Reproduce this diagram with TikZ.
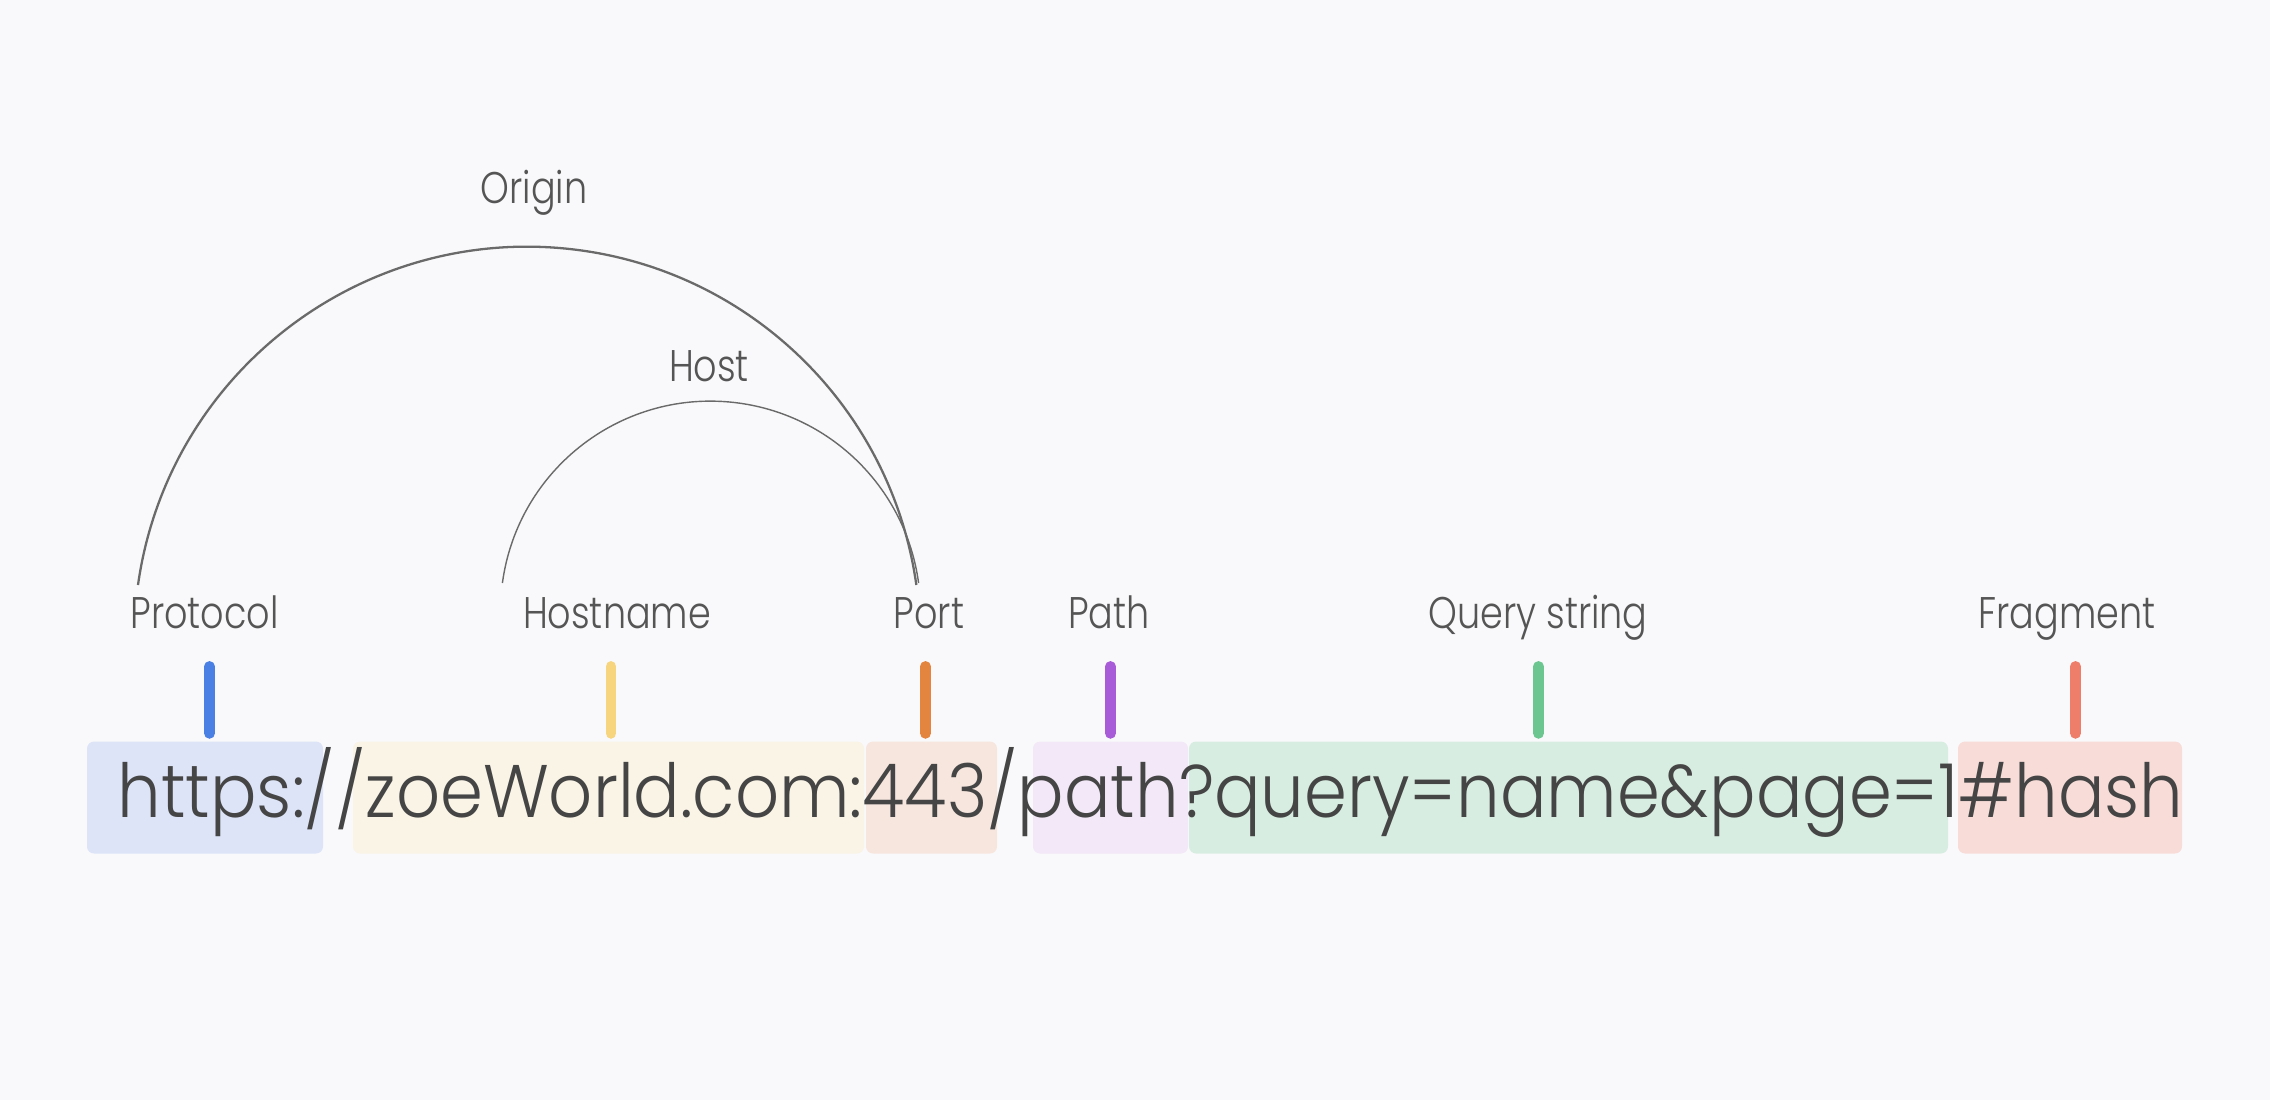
\documentclass[tikz,border=0pt]{standalone}
\usepackage{fontspec}
\setmainfont{Poppins}[UprightFont={* Light}]
\usepackage{xcolor}
\usepackage{tikz}
\usetikzlibrary{positioning, calc}

\definecolor{bgcol}{HTML}{F9F9FB}
\definecolor{inkcol}{HTML}{454545}
\definecolor{labelcol}{HTML}{555555}
\definecolor{arccol}{HTML}{6A6A6A}
\definecolor{protoFill}{HTML}{DDE4F8}
\definecolor{protoTick}{HTML}{4A7FE3}
\definecolor{hostFill}{HTML}{FAF4E6}
\definecolor{hostTick}{HTML}{F7D57E}
\definecolor{portFill}{HTML}{F6E6DE}
\definecolor{portTick}{HTML}{E3843F}
\definecolor{pathFill}{HTML}{F2E8F7}
\definecolor{pathTick}{HTML}{A95CD8}
\definecolor{queryFill}{HTML}{D8EDE1}
\definecolor{queryTick}{HTML}{6CC690}
\definecolor{fragFill}{HTML}{F7DCD8}
\definecolor{fragTick}{HTML}{EE7D69}

\newcommand{\narrowtext}[2]{\scalebox{#1}[1]{#2}}

\begin{document}
\begin{tikzpicture}[
        urlbox/.style={rectangle, rounded corners=2pt, minimum height=1.12cm, inner sep=0pt},
        partlabel/.style={anchor=base, inner sep=0pt, text=labelcol, font=\fontsize{12.6}{15}\selectfont},
        tickline/.style={line width=3.1pt, line cap=round},
        bigarc/.style={arccol, line width=0.65pt},
        smallarc/.style={arccol, line width=0.4pt}
    ]
        % Background
        \fill[bgcol] (0,0) rectangle (22.7,-11);

        % Coloured boxes behind the URL
        \node[urlbox, fill=protoFill, minimum width=2.36cm] (protobox) at (2.05,-7.975) {};
        \node[urlbox, fill=hostFill, minimum width=5.11cm] (hostbox) at (6.085,-7.975) {};
        \node[urlbox, fill=portFill, minimum width=1.31cm] (portbox) at (9.315,-7.975) {};
        \node[urlbox, fill=pathFill, minimum width=1.55cm] (pathbox) at (11.105,-7.975) {};
        \node[urlbox, fill=queryFill, minimum width=7.59cm] (querybox) at (15.685,-7.975) {};
        \node[urlbox, fill=fragFill, minimum width=2.24cm] (fragbox) at (20.70,-7.975) {};

        % The URL itself
        \node[anchor=base west, inner sep=0pt, text=inkcol, font=\fontsize{21.2}{25}\selectfont] (url) at (1.17,-8.17)
            {\narrowtext{0.925}{https://zoeWorld.com:443/path?query=name\&page=1\#hash}};

        % Part labels
        \node[partlabel] (protolbl) at (2.045,-6.28) {\narrowtext{0.826}{Protocol}};
        \node[partlabel] (hostlbl) at (6.17,-6.28) {\narrowtext{0.826}{Hostname}};
        \node[partlabel] (portlbl) at (9.29,-6.28) {\narrowtext{0.826}{Port}};
        \node[partlabel] (pathlbl) at (11.09,-6.28) {\narrowtext{0.826}{Path}};
        \node[partlabel] (querylbl) at (15.38,-6.28) {\narrowtext{0.826}{Query string}};
        \node[partlabel] (fraglbl) at (20.67,-6.28) {\narrowtext{0.826}{Fragment}};

        % Ticks from labels down to boxes
        \coordinate (protoTop) at (2.095,-6.665);
        \coordinate (hostTop) at (6.11,-6.665);
        \coordinate (portTop) at (9.255,-6.665);
        \coordinate (pathTop) at (11.105,-6.665);
        \coordinate (queryTop) at (15.385,-6.665);
        \coordinate (fragTop) at (20.755,-6.665);
        \draw[tickline, protoTick] (protoTop) -- ([yshift=0.075cm]protoTop |- protobox.north);
        \draw[tickline, hostTick] (hostTop) -- ([yshift=0.075cm]hostTop |- hostbox.north);
        \draw[tickline, portTick] (portTop) -- ([yshift=0.075cm]portTop |- portbox.north);
        \draw[tickline, pathTick] (pathTop) -- ([yshift=0.075cm]pathTop |- pathbox.north);
        \draw[tickline, queryTick] (queryTop) -- ([yshift=0.075cm]queryTop |- querybox.north);
        \draw[tickline, fragTick] (fragTop) -- ([yshift=0.075cm]fragTop |- fragbox.north);

        % Origin arc: Protocol to Port
        \node[partlabel] (originlbl) at (5.34,-2.04) {\narrowtext{0.826}{Origin}};
        \coordinate (originL) at (1.38,-5.85);
        \draw[bigarc] (originL) arc[start angle=172, end angle=8, radius=3.93];

        % Host arc: Hostname to Port
        \node[partlabel] (hostarclbl) at (7.09,-3.81) {\narrowtext{0.826}{Host}};
        \coordinate (hostL) at (5.024,-5.83);
        \draw[smallarc] (hostL) arc[start angle=172.3, end angle=7.7, radius=2.10];
    \end{tikzpicture}
\end{document}
